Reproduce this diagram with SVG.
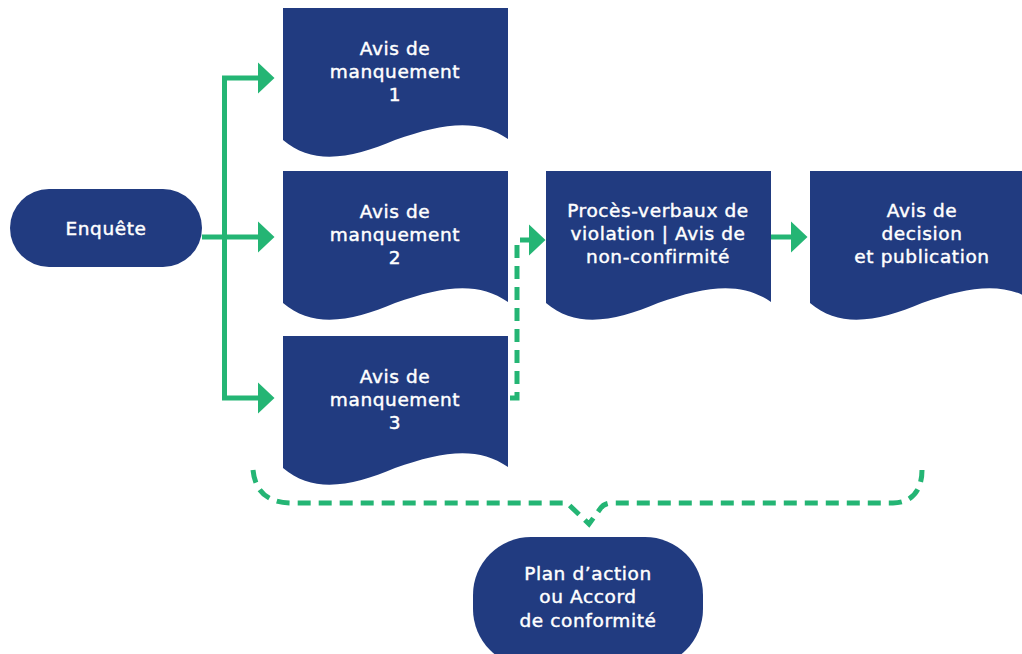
<svg xmlns="http://www.w3.org/2000/svg" width="1022" height="654" viewBox="0 0 1022 654">
<style>
.node{fill:#213b80}
.t{fill:#ffffff;stroke:#ffffff;stroke-width:0.45px;font-family:"DejaVu Sans",sans-serif;font-size:18.5px;letter-spacing:0.6px;text-anchor:middle}
.solid{fill:none;stroke:#24b574;stroke-width:5}
.dash{fill:none;stroke:#24b574;stroke-width:5;stroke-dasharray:13 8}
</style>
<defs>
<path id="doc" d="M0,0 H225 V131 C195,110 160,115 112,132 C70,150 30,158 0,132 Z"/>
<marker id="arr" markerUnits="userSpaceOnUse" markerWidth="17" markerHeight="32" refX="0" refY="15.5" orient="auto" viewBox="0 0 17 31">
<path d="M0,0 L16.5,15.5 L0,31 Z" fill="#24b574"/>
</marker>
</defs>
<g id="connectors">
<path class="solid" d="M202,237 H258" marker-end="url(#arr)"/>
<path class="solid" d="M224.5,78 V398"/>
<path class="solid" d="M222,78 H258" marker-end="url(#arr)"/>
<path class="solid" d="M222,398 H258" marker-end="url(#arr)"/>
<path class="solid" d="M771,237 H791" marker-end="url(#arr)"/>
<path class="dash" d="M510,398 H517 V240 H529" marker-end="url(#arr)" stroke-dasharray="12 8"/>
<path class="dash" d="M253,470 C255,490 266,503 292,503 H567 L589,524 L600,509 Q604,503 612,503 H893 C912,503 922,490 922,470"/>
</g>
<g id="enquete">
<rect class="node" x="10" y="189" width="192" height="78" rx="39"/>
<text class="t" x="106" y="235">Enquête</text>
</g>
<g id="avis1">
<use href="#doc" class="node" x="283" y="8"/>
<text class="t" x="395" y="55">Avis de</text>
<text class="t" x="395" y="78">manquement</text>
<text class="t" x="395" y="101">1</text>
</g>
<g id="avis2">
<use href="#doc" class="node" x="283" y="171"/>
<text class="t" x="395" y="218">Avis de</text>
<text class="t" x="395" y="241">manquement</text>
<text class="t" x="395" y="264">2</text>
</g>
<g id="avis3">
<use href="#doc" class="node" x="283" y="336"/>
<text class="t" x="395" y="383">Avis de</text>
<text class="t" x="395" y="406">manquement</text>
<text class="t" x="395" y="429">3</text>
</g>
<g id="proces">
<use href="#doc" class="node" x="546" y="171"/>
<text class="t" x="658" y="217">Procès-verbaux de</text>
<text class="t" x="658" y="240">violation | Avis de</text>
<text class="t" x="658" y="263">non-confirmité</text>
</g>
<g id="decision">
<use href="#doc" class="node" x="810" y="171"/>
<text class="t" x="922" y="217">Avis de</text>
<text class="t" x="922" y="240">decision</text>
<text class="t" x="922" y="263">et publication</text>
</g>
<g id="plan">
<rect class="node" x="473" y="537" width="230" height="130" rx="58"/>
<text class="t" x="588" y="580">Plan d’action</text>
<text class="t" x="588" y="603">ou Accord</text>
<text class="t" x="588" y="627">de conformité</text>
</g>
</svg>
